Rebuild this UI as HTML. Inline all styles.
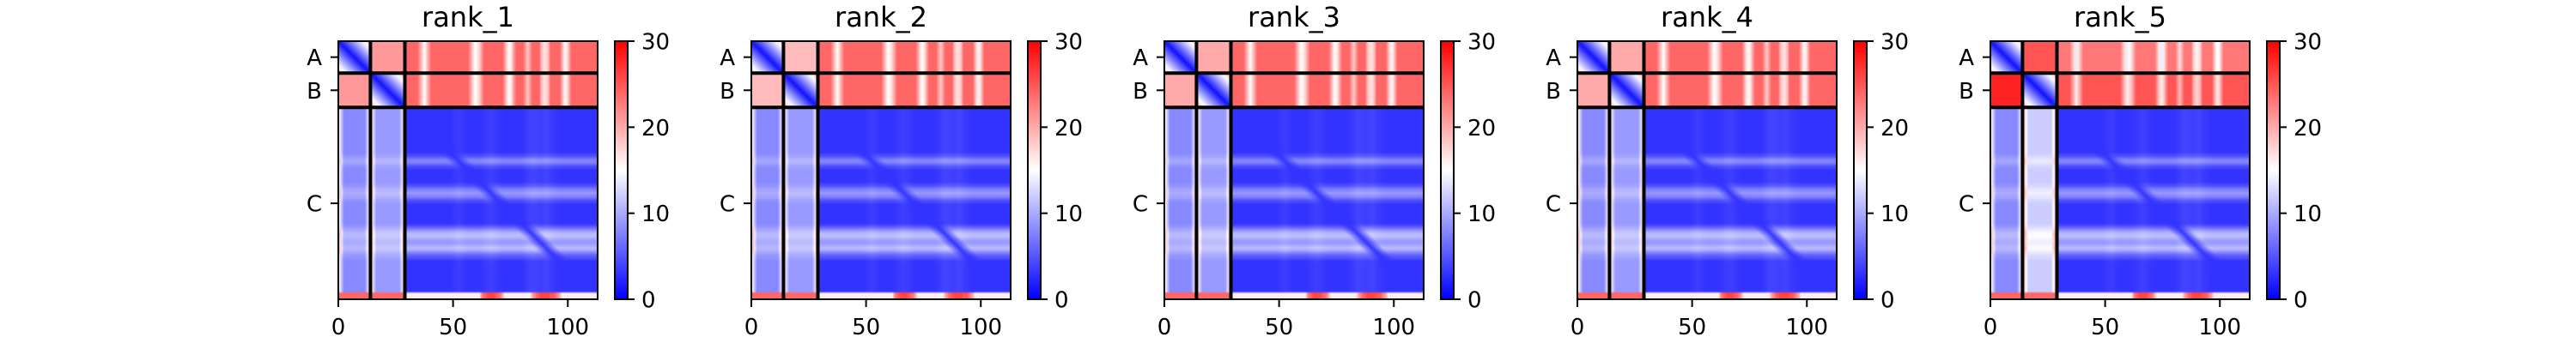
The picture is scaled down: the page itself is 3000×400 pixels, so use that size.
<!DOCTYPE html>
<html><head><meta charset="utf-8">
<style>
html,body{margin:0;padding:0;background:#fff;}
#root{position:relative;width:3000px;height:400px;overflow:hidden;font-family:"DejaVu Sans","Liberation Sans",sans-serif;}
canvas{position:absolute;image-rendering:auto;}
svg{position:absolute;left:0;top:0;}
</style></head>
<body>
<div id="root">
<svg id="ov" width="3000" height="400"></svg>
</div>
<script>
// ---- data ----
const panelTitles = ["rank_1","rank_2","rank_3","rank_4","rank_5"];
const chainNames = ["A","B","C"];
const chainLengths = [14,15,84];
const xTicks = [0,50,100];
const cbarTicks = [0,10,20,30];
const vMax = 30;
// mean PAE per chain block [row chain][col chain], per panel
const blockMeans = [
  [[0,21,24],[21,0,24],[8,9,3]],
  [[0,19,24],[19,0,24],[8,9,3]],
  [[0,20,24],[20,0,24],[8,9,3]],
  [[0,20,24],[20,0,24],[8,9,3]],
  [[0,25,23],[28,0,25],[8,12,3]]
];
// residues in chain C where A/B rows show low-error streaks
const dipResidues = [35,36,37,38,39,57,58,59,60,61,62,72,73,74,75,76,81,82,83,88,89,90,91,97,98,99,100];
const dipDepths   = [3,6,9,6,3,3,6,9,8,6,3,3,7,9,7,3,3,6,3,5,7,7,5,4,8,8,4];
// chain C rows with elevated error (light bands)
const bandResidues = [49,50,51,52,53,54,55,62,63,64,65,66,67,68,69,70,80,81,82,83,84,85,86,87,88,89,90,91,92,93,94,95];
const bandAmounts  = [1,2,4,5,4,2,1,1,2,4,5,6,5,4,2,1,1,3,5,7,8,8,7,6,6,7,8,7,5,3,2,1];
// bottom rows of chain C: hot columns
const hotResidues = [62,63,64,65,66,67,68,69,70,71,84,85,86,87,88,89,90,91,92,93,94,95,96];
const hotValues   = [22,24,25,26,26,26,25,24,23,20,20,22,24,25,26,26,26,26,25,25,24,22,20];

// ---- helpers ----
const N = chainLengths.reduce((a,b)=>a+b,0);
const chainStart=[]; {let s=0; for(const L of chainLengths){chainStart.push(s); s+=L;}}
function chainOf(i){ for(let c=chainLengths.length-1;c>=0;c--) if(i>=chainStart[c]) return c; return 0; }
const dip=new Array(N).fill(0); dipResidues.forEach((r,k)=>dip[r]=dipDepths[k]);
const band=new Array(N).fill(0); bandResidues.forEach((r,k)=>band[r]=bandAmounts[k]);
const hot=new Array(N).fill(16); hotResidues.forEach((r,k)=>hot[r]=hotValues[k]);

function pae(p,i,j){
  const ci=chainOf(i), cj=chainOf(j), base=blockMeans[p][ci][cj];
  let v;
  if(ci===cj){
    const d=Math.abs(i-j);
    if(ci<2){ v=1+d*1.3; }
    else{
      if(i>=N-3) return hot[j];
      v=base+band[i]*Math.min(1,d/5)+0.12*band[j]*Math.min(1,d/5);
    }
  } else if(ci<2){
    v = cj===2 ? base-dip[j] : base;
  } else {
    if(i>=N-3) return 24;
    const jj=j-chainStart[cj], Lc=chainLengths[cj];
    const e = (jj===0||jj===Lc-1)?8:((jj===1||jj===Lc-2)?3:0);
    v=base+e+band[i]*0.35;
  }
  return Math.max(0,Math.min(vMax,v));
}
function bwr(v){
  const t=Math.max(0,Math.min(1,v/vMax));
  if(t<0.5){const s=t/0.5; return [Math.round(255*s),Math.round(255*s),255];}
  const s=(t-0.5)/0.5; return [255,Math.round(255*(1-s)),Math.round(255*(1-s))];
}

// ---- layout ----
const root=document.getElementById('root'), ov=document.getElementById('ov');
const NS="http://www.w3.org/2000/svg";
const axW=302, axH=301, top0=48, left0=394, step=481;
function mk(tag,attrs,parent){const e=document.createElementNS(NS,tag); for(const k in attrs) e.setAttribute(k,attrs[k]); (parent||ov).appendChild(e); return e;}

const defs=mk('defs',{});
const grad=mk('linearGradient',{id:'bwr',x1:0,y1:1,x2:0,y2:0},defs);
mk('stop',{offset:'0','stop-color':'#0000ff'},grad);
mk('stop',{offset:'0.5','stop-color':'#ffffff'},grad);
mk('stop',{offset:'1','stop-color':'#ff0000'},grad);

panelTitles.forEach((title,p)=>{
  const L=left0+p*step;
  const sx=v=>L+v*axW/N, sy=v=>top0+v*axH/N;
  const cv=document.createElement('canvas');
  cv.width=N; cv.height=N;
  cv.style.left=L+'px'; cv.style.top=top0+'px'; cv.style.width=axW+'px'; cv.style.height=axH+'px';
  
  
  root.insertBefore(cv,ov);
  const ctx=cv.getContext('2d'), img=ctx.createImageData(N,N);
  for(let i=0;i<N;i++)for(let j=0;j<N;j++){
    const c=bwr(pae(p,i,j)), o=(i*N+j)*4;
    img.data[o]=c[0];img.data[o+1]=c[1];img.data[o+2]=c[2];img.data[o+3]=255;
  }
  ctx.putImageData(img,0,0);

  const g=mk('g',{});
  
  
  for(let c=1;c<chainStart.length;c++){
    const b=chainStart[c];
    const h=mk('line',{x1:L,x2:L+axW,y1:sy(b),y2:sy(b),stroke:'#000','stroke-width':4},g);
    
    
    const v=mk('line',{x1:sx(b),x2:sx(b),y1:top0,y2:top0+axH,stroke:'#000','stroke-width':4},g);
    
    
  }
  const fr=mk('rect',{x:L,y:top0,width:axW,height:axH,fill:'none',stroke:'#000','stroke-width':2},g);
  
  
  const t=mk('text',{x:L+axW/2,y:31,'text-anchor':'middle','font-size':32,fill:'#000'},g);
  t.textContent=title;
  
  
  xTicks.forEach(v=>{
    mk('line',{x1:sx(v),x2:sx(v),y1:top0+axH,y2:top0+axH+9,stroke:'#000','stroke-width':2},g);
    const tx=mk('text',{x:sx(v),y:390,'text-anchor':'middle','font-size':26,fill:'#000'},g);
    tx.textContent=v;
    
    
  });
  chainNames.forEach((nm,c)=>{
    const y=sy(chainStart[c]+chainLengths[c]/2);
    mk('line',{x1:L-9,x2:L,y1:y,y2:y,stroke:'#000','stroke-width':2},g);
    const ty=mk('text',{x:L-19,y:y+9.5,'text-anchor':'end','font-size':26,fill:'#000'},g);
    ty.textContent=nm;
    
    
  });
  const cbx=L+322, cbw=15;
  const cb=mk('rect',{x:cbx,y:top0,width:cbw,height:axH,fill:'url(#bwr)',stroke:'#000','stroke-width':2},g);
  
  
  cbarTicks.forEach(v=>{
    const y=top0+axH-v/vMax*axH;
    mk('line',{x1:cbx+cbw,x2:cbx+cbw+8,y1:y,y2:y,stroke:'#000','stroke-width':2},g);
    const tl=mk('text',{x:cbx+cbw+16,y:y+9.5,'font-size':26,fill:'#000'},g);
    tl.textContent=v;
    
    
  });
});
</script>
</body></html>
